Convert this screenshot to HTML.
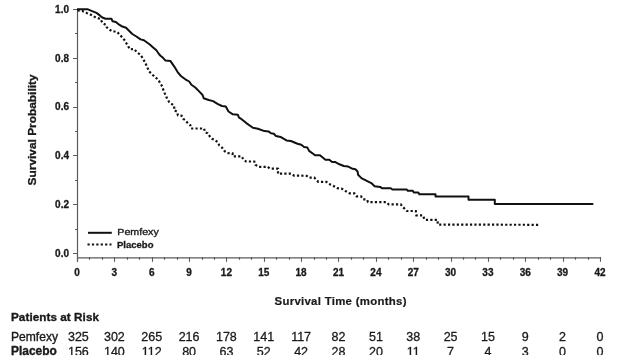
<!DOCTYPE html>
<html><head><meta charset="utf-8"><style>
html,body{margin:0;padding:0;background:#fff;width:633px;height:363px;overflow:hidden}
svg{display:block}
text{font-family:"Liberation Sans",sans-serif;fill:#1a1a1a}
.tl{font-size:10px;font-weight:bold;stroke:#1a1a1a;stroke-width:0.3px}
.lg{font-size:9.5px;stroke:#1a1a1a;stroke-width:0.35px}
.lgb{font-size:10px;font-weight:bold;stroke:#1a1a1a;stroke-width:0.3px}
.at{font-size:11.4px;font-weight:bold;stroke:#1a1a1a;stroke-width:0.2px}
.ayt{font-size:11px;font-weight:bold;stroke:#1a1a1a;stroke-width:0.3px}
.tb{font-size:12px;font-weight:bold;stroke:#1a1a1a;stroke-width:0.35px}
.tr{font-size:12.5px;stroke:#1a1a1a;stroke-width:0.3px}
.trl{font-size:12px;stroke:#1a1a1a;stroke-width:0.35px}
</style></head><body>
<svg width="633" height="363" viewBox="0 0 633 363">
<defs><clipPath id="clp"><rect x="0" y="0" width="633" height="355"/></clipPath></defs>
<g style="opacity:0.999">
<line x1="77.5" y1="9" x2="77.5" y2="261.8" stroke="#5a5a5a" stroke-width="1.2"/>
<line x1="77" y1="257.8" x2="600.5" y2="257.8" stroke="#5a5a5a" stroke-width="1.3"/>
<line x1="73" y1="253.5" x2="77.5" y2="253.5" stroke="#5a5a5a" stroke-width="1"/>
<line x1="75" y1="229.5" x2="77.5" y2="229.5" stroke="#5a5a5a" stroke-width="1"/>
<line x1="73" y1="204.5" x2="77.5" y2="204.5" stroke="#5a5a5a" stroke-width="1"/>
<line x1="75" y1="180.5" x2="77.5" y2="180.5" stroke="#5a5a5a" stroke-width="1"/>
<line x1="73" y1="155.5" x2="77.5" y2="155.5" stroke="#5a5a5a" stroke-width="1"/>
<line x1="75" y1="131.5" x2="77.5" y2="131.5" stroke="#5a5a5a" stroke-width="1"/>
<line x1="73" y1="107.5" x2="77.5" y2="107.5" stroke="#5a5a5a" stroke-width="1"/>
<line x1="75" y1="82.5" x2="77.5" y2="82.5" stroke="#5a5a5a" stroke-width="1"/>
<line x1="73" y1="58.5" x2="77.5" y2="58.5" stroke="#5a5a5a" stroke-width="1"/>
<line x1="75" y1="33.5" x2="77.5" y2="33.5" stroke="#5a5a5a" stroke-width="1"/>
<line x1="73" y1="9.5" x2="77.5" y2="9.5" stroke="#5a5a5a" stroke-width="1"/>
<line x1="77.5" y1="257" x2="77.5" y2="261.8" stroke="#5a5a5a" stroke-width="1.1"/>
<line x1="89.5" y1="257" x2="89.5" y2="259.8" stroke="#5a5a5a" stroke-width="1.1"/>
<line x1="102.5" y1="257" x2="102.5" y2="259.8" stroke="#5a5a5a" stroke-width="1.1"/>
<line x1="114.5" y1="257" x2="114.5" y2="261.8" stroke="#5a5a5a" stroke-width="1.1"/>
<line x1="127.5" y1="257" x2="127.5" y2="259.8" stroke="#5a5a5a" stroke-width="1.1"/>
<line x1="139.5" y1="257" x2="139.5" y2="259.8" stroke="#5a5a5a" stroke-width="1.1"/>
<line x1="152.5" y1="257" x2="152.5" y2="261.8" stroke="#5a5a5a" stroke-width="1.1"/>
<line x1="164.5" y1="257" x2="164.5" y2="259.8" stroke="#5a5a5a" stroke-width="1.1"/>
<line x1="177.5" y1="257" x2="177.5" y2="259.8" stroke="#5a5a5a" stroke-width="1.1"/>
<line x1="189.5" y1="257" x2="189.5" y2="261.8" stroke="#5a5a5a" stroke-width="1.1"/>
<line x1="202.5" y1="257" x2="202.5" y2="259.8" stroke="#5a5a5a" stroke-width="1.1"/>
<line x1="214.5" y1="257" x2="214.5" y2="259.8" stroke="#5a5a5a" stroke-width="1.1"/>
<line x1="226.5" y1="257" x2="226.5" y2="261.8" stroke="#5a5a5a" stroke-width="1.1"/>
<line x1="239.5" y1="257" x2="239.5" y2="259.8" stroke="#5a5a5a" stroke-width="1.1"/>
<line x1="251.5" y1="257" x2="251.5" y2="259.8" stroke="#5a5a5a" stroke-width="1.1"/>
<line x1="264.5" y1="257" x2="264.5" y2="261.8" stroke="#5a5a5a" stroke-width="1.1"/>
<line x1="276.5" y1="257" x2="276.5" y2="259.8" stroke="#5a5a5a" stroke-width="1.1"/>
<line x1="289.5" y1="257" x2="289.5" y2="259.8" stroke="#5a5a5a" stroke-width="1.1"/>
<line x1="301.5" y1="257" x2="301.5" y2="261.8" stroke="#5a5a5a" stroke-width="1.1"/>
<line x1="314.5" y1="257" x2="314.5" y2="259.8" stroke="#5a5a5a" stroke-width="1.1"/>
<line x1="326.5" y1="257" x2="326.5" y2="259.8" stroke="#5a5a5a" stroke-width="1.1"/>
<line x1="338.5" y1="257" x2="338.5" y2="261.8" stroke="#5a5a5a" stroke-width="1.1"/>
<line x1="351.5" y1="257" x2="351.5" y2="259.8" stroke="#5a5a5a" stroke-width="1.1"/>
<line x1="363.5" y1="257" x2="363.5" y2="259.8" stroke="#5a5a5a" stroke-width="1.1"/>
<line x1="376.5" y1="257" x2="376.5" y2="261.8" stroke="#5a5a5a" stroke-width="1.1"/>
<line x1="388.5" y1="257" x2="388.5" y2="259.8" stroke="#5a5a5a" stroke-width="1.1"/>
<line x1="401.5" y1="257" x2="401.5" y2="259.8" stroke="#5a5a5a" stroke-width="1.1"/>
<line x1="413.5" y1="257" x2="413.5" y2="261.8" stroke="#5a5a5a" stroke-width="1.1"/>
<line x1="426.5" y1="257" x2="426.5" y2="259.8" stroke="#5a5a5a" stroke-width="1.1"/>
<line x1="438.5" y1="257" x2="438.5" y2="259.8" stroke="#5a5a5a" stroke-width="1.1"/>
<line x1="451.5" y1="257" x2="451.5" y2="261.8" stroke="#5a5a5a" stroke-width="1.1"/>
<line x1="463.5" y1="257" x2="463.5" y2="259.8" stroke="#5a5a5a" stroke-width="1.1"/>
<line x1="475.5" y1="257" x2="475.5" y2="259.8" stroke="#5a5a5a" stroke-width="1.1"/>
<line x1="488.5" y1="257" x2="488.5" y2="261.8" stroke="#5a5a5a" stroke-width="1.1"/>
<line x1="500.5" y1="257" x2="500.5" y2="259.8" stroke="#5a5a5a" stroke-width="1.1"/>
<line x1="513.5" y1="257" x2="513.5" y2="259.8" stroke="#5a5a5a" stroke-width="1.1"/>
<line x1="525.5" y1="257" x2="525.5" y2="261.8" stroke="#5a5a5a" stroke-width="1.1"/>
<line x1="538.5" y1="257" x2="538.5" y2="259.8" stroke="#5a5a5a" stroke-width="1.1"/>
<line x1="550.5" y1="257" x2="550.5" y2="259.8" stroke="#5a5a5a" stroke-width="1.1"/>
<line x1="563.5" y1="257" x2="563.5" y2="261.8" stroke="#5a5a5a" stroke-width="1.1"/>
<line x1="575.5" y1="257" x2="575.5" y2="259.8" stroke="#5a5a5a" stroke-width="1.1"/>
<line x1="588.5" y1="257" x2="588.5" y2="259.8" stroke="#5a5a5a" stroke-width="1.1"/>
<line x1="600.5" y1="257" x2="600.5" y2="261.8" stroke="#5a5a5a" stroke-width="1.1"/>
<text x="69" y="256.8" class="tl" text-anchor="end">0.0</text>
<text x="69" y="208.0" class="tl" text-anchor="end">0.2</text>
<text x="69" y="159.2" class="tl" text-anchor="end">0.4</text>
<text x="69" y="110.4" class="tl" text-anchor="end">0.6</text>
<text x="69" y="61.6" class="tl" text-anchor="end">0.8</text>
<text x="69" y="12.8" class="tl" text-anchor="end">1.0</text>
<text x="77.0" y="275.8" class="tl" text-anchor="middle">0</text>
<text x="114.4" y="275.8" class="tl" text-anchor="middle">3</text>
<text x="151.7" y="275.8" class="tl" text-anchor="middle">6</text>
<text x="189.1" y="275.8" class="tl" text-anchor="middle">9</text>
<text x="226.4" y="275.8" class="tl" text-anchor="middle">12</text>
<text x="263.8" y="275.8" class="tl" text-anchor="middle">15</text>
<text x="301.1" y="275.8" class="tl" text-anchor="middle">18</text>
<text x="338.5" y="275.8" class="tl" text-anchor="middle">21</text>
<text x="375.9" y="275.8" class="tl" text-anchor="middle">24</text>
<text x="413.2" y="275.8" class="tl" text-anchor="middle">27</text>
<text x="450.6" y="275.8" class="tl" text-anchor="middle">30</text>
<text x="487.9" y="275.8" class="tl" text-anchor="middle">33</text>
<text x="525.3" y="275.8" class="tl" text-anchor="middle">36</text>
<text x="562.6" y="275.8" class="tl" text-anchor="middle">39</text>
<text x="600.0" y="275.8" class="tl" text-anchor="middle">42</text>
<polyline points="77.0,9.2 87.4,9.2 91.5,10.9 96.5,12.9 99.8,15.4 102.3,17.5 105.6,18.7 111.4,18.7 112.6,21.2 115.8,22.0 118.3,24.1 121.6,26.2 126.1,27.8 129.0,30.7 132.3,34.0 136.4,36.5 140.6,39.4 143.9,40.2 149.8,44.5 153.1,47.4 156.4,50.3 158.9,54.0 160.5,55.7 163.0,57.8 165.5,60.6 170.5,61.1 174.3,66.6 177.6,72.1 180.9,76.0 185.3,79.3 189.2,81.5 191.4,84.8 195.3,87.5 198.6,90.9 202.6,95.0 203.7,98.3 208.7,100.0 213.1,101.1 217.5,103.8 221.9,106.0 225.8,106.6 228.5,111.5 232.9,114.3 237.9,114.8 239.0,117.6 241.3,118.9 246.3,123.1 252.9,127.7 257.9,128.8 264.4,131.1 268.8,131.6 271.0,133.3 273.8,133.8 276.0,136.0 280.9,137.1 286.5,140.4 290.9,141.0 297.5,143.7 301.3,144.8 304.1,147.0 307.4,147.6 309.1,150.9 315.1,155.3 320.0,155.3 325.4,159.7 329.3,159.8 332.1,162.1 335.4,162.1 339.4,164.3 343.8,166.0 348.2,166.6 352.6,168.8 355.4,169.3 357.6,171.5 358.1,174.8 361.4,178.1 365.8,180.3 371.3,183.1 374.6,186.2 380.2,186.9 382.0,188.3 390.8,188.3 392.4,189.5 406.8,189.5 407.8,190.8 412.8,190.8 413.8,192.4 418.3,192.4 419.3,194.2 435.5,194.2 435.5,196.5 468.5,196.5 468.5,199.8 494.8,199.8 494.8,204.0 593.3,204.0" fill="none" stroke="#111" stroke-width="2" stroke-linejoin="round"/>
<polyline points="77.5,10.3 82.0,10.8 86.6,12.9 89.9,14.2 92.8,15.8 95.7,17.5 100.6,18.9 101.4,20.8 102.7,23.2 106.0,24.9 106.8,27.4 109.3,29.4 112.2,31.5 116.2,31.5 117.8,32.7 120.8,35.8 124.4,40.0 127.7,45.5 129.9,49.3 133.8,49.0 137.6,52.6 140.9,55.4 143.1,58.7 145.9,64.2 149.1,71.4 152.5,74.8 157.4,79.0 160.0,82.5 162.2,86.5 163.6,90.7 166.3,96.9 169.2,102.1 174.2,105.8 174.2,110.3 176.9,111.6 177.9,115.3 181.6,115.7 183.3,118.8 185.8,120.8 187.8,123.1 190.3,125.2 191.1,128.5 204.1,128.5 205.0,132.2 207.7,133.3 209.9,136.6 212.1,138.8 214.9,139.9 217.6,142.1 219.3,145.4 222.0,147.6 224.8,151.4 227.5,153.1 232.5,153.4 233.0,156.4 241.7,156.4 243.3,159.4 246.1,161.5 254.3,161.5 255.4,164.8 258.7,166.8 267.6,166.8 269.8,168.5 278.0,168.7 278.0,173.7 291.3,173.7 294.0,175.6 297.8,175.6 306.6,175.8 309.3,177.7 314.3,177.7 318.2,181.8 326.4,181.8 328.6,183.7 332.5,185.4 337.4,188.2 341.9,188.7 345.2,190.9 349.6,193.3 354.4,193.3 356.6,196.3 361.0,196.3 363.2,199.3 366.5,199.3 368.2,202.1 386.4,202.1 388.6,204.3 400.7,204.3 402.9,207.0 406.9,211.0 415.8,211.0 416.3,215.3 422.7,215.3 424.8,219.8 437.4,219.8 437.9,224.6 539.8,224.8" fill="none" stroke="#111" stroke-width="2.2" stroke-dasharray="2.2 2.2"/>
<line x1="88" y1="232.8" x2="111.8" y2="232.8" stroke="#111" stroke-width="2"/>
<line x1="87.5" y1="244.5" x2="111.5" y2="244.5" stroke="#111" stroke-width="2.2" stroke-dasharray="2.2 2.2"/>
<text x="117.3" y="235" class="lg" textLength="41.5" lengthAdjust="spacingAndGlyphs">Pemfexy</text>
<text x="117" y="248.4" class="lgb" style="font-size:9.6px" textLength="36.5" lengthAdjust="spacingAndGlyphs">Placebo</text>
<text x="274.5" y="305" class="at" textLength="132" lengthAdjust="spacing">Survival Time (months)</text>
<text transform="translate(35.8,185.4) rotate(-90)" class="ayt" textLength="111" lengthAdjust="spacingAndGlyphs">Survival Probability</text>
<text x="11" y="320.7" class="tb" style="font-size:11.7px" textLength="88" lengthAdjust="spacing">Patients at Risk</text>
<text x="11" y="340.6" class="trl" textLength="47" lengthAdjust="spacingAndGlyphs">Pemfexy</text>
<text x="11" y="355" class="tb" textLength="45.8" lengthAdjust="spacingAndGlyphs">Placebo</text>
<text x="78.4" y="341" class="tr" text-anchor="middle">325</text>
<text x="78.4" y="356" class="tr" text-anchor="middle" clip-path="url(#clp)">156</text>
<text x="114.4" y="341" class="tr" text-anchor="middle">302</text>
<text x="114.4" y="356" class="tr" text-anchor="middle" clip-path="url(#clp)">140</text>
<text x="151.7" y="341" class="tr" text-anchor="middle">265</text>
<text x="151.7" y="356" class="tr" text-anchor="middle" clip-path="url(#clp)">112</text>
<text x="189.1" y="341" class="tr" text-anchor="middle">216</text>
<text x="189.1" y="356" class="tr" text-anchor="middle" clip-path="url(#clp)">80</text>
<text x="226.4" y="341" class="tr" text-anchor="middle">178</text>
<text x="226.4" y="356" class="tr" text-anchor="middle" clip-path="url(#clp)">63</text>
<text x="263.8" y="341" class="tr" text-anchor="middle">141</text>
<text x="263.8" y="356" class="tr" text-anchor="middle" clip-path="url(#clp)">52</text>
<text x="301.1" y="341" class="tr" text-anchor="middle">117</text>
<text x="301.1" y="356" class="tr" text-anchor="middle" clip-path="url(#clp)">42</text>
<text x="338.5" y="341" class="tr" text-anchor="middle">82</text>
<text x="338.5" y="356" class="tr" text-anchor="middle" clip-path="url(#clp)">28</text>
<text x="375.9" y="341" class="tr" text-anchor="middle">51</text>
<text x="375.9" y="356" class="tr" text-anchor="middle" clip-path="url(#clp)">20</text>
<text x="413.2" y="341" class="tr" text-anchor="middle">38</text>
<text x="413.2" y="356" class="tr" text-anchor="middle" clip-path="url(#clp)">11</text>
<text x="450.6" y="341" class="tr" text-anchor="middle">25</text>
<text x="450.6" y="356" class="tr" text-anchor="middle" clip-path="url(#clp)">7</text>
<text x="487.9" y="341" class="tr" text-anchor="middle">15</text>
<text x="487.9" y="356" class="tr" text-anchor="middle" clip-path="url(#clp)">4</text>
<text x="525.3" y="341" class="tr" text-anchor="middle">9</text>
<text x="525.3" y="356" class="tr" text-anchor="middle" clip-path="url(#clp)">3</text>
<text x="562.6" y="341" class="tr" text-anchor="middle">2</text>
<text x="562.6" y="356" class="tr" text-anchor="middle" clip-path="url(#clp)">0</text>
<text x="600.0" y="341" class="tr" text-anchor="middle">0</text>
<text x="600.0" y="356" class="tr" text-anchor="middle" clip-path="url(#clp)">0</text>
</g>
</svg>
</body></html>
